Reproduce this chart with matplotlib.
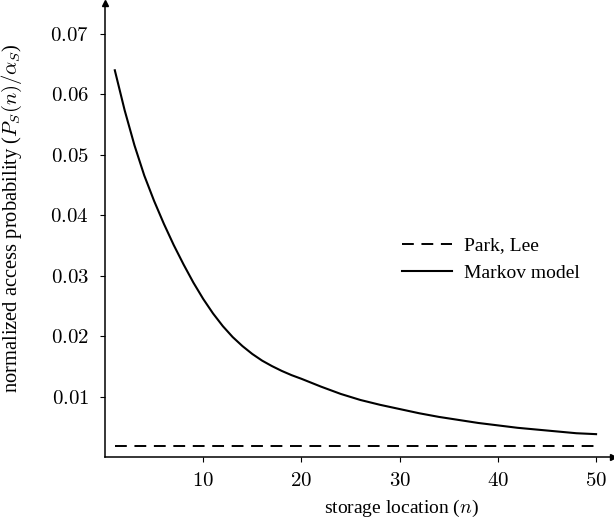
import numpy as np
import matplotlib
matplotlib.use('Agg')
import matplotlib.pyplot as plt

plt.rcParams['font.family'] = ['Liberation Serif', 'DejaVu Serif']
plt.rcParams['mathtext.fontset'] = 'cm'
plt.rcParams['lines.scale_dashes'] = False

# storage location n and normalized access probability
n_markov = [1, 2, 3, 4, 5, 6, 7, 8, 9, 10, 11, 12, 13, 14, 15, 16, 17, 18,
            19, 20, 22, 24, 26, 28, 30, 32, 34, 36, 38, 40, 42, 44, 46, 48, 50]
p_markov = [0.0640, 0.0574, 0.0516, 0.0466, 0.0424, 0.0386, 0.0351, 0.0319,
            0.0289, 0.0262, 0.0238, 0.0217, 0.0199, 0.0184, 0.0171, 0.0160,
            0.0151, 0.0143, 0.0136, 0.0130, 0.0117, 0.0105, 0.0095, 0.0087,
            0.0080, 0.0073, 0.0067, 0.0062, 0.0057, 0.0053, 0.0049, 0.0046,
            0.0043, 0.0040, 0.00385]

n_park = [1, 50]
p_park = [0.00187, 0.00187]

xticks = [10, 20, 30, 40, 50]
yticks = [0.01, 0.02, 0.03, 0.04, 0.05, 0.06, 0.07]

fig = plt.figure(figsize=(6.14, 5.21), dpi=100)
ax = fig.add_axes([0.171, 0.122, 0.827, 0.872])

ax.plot(n_park, p_park, color='black', lw=1.4, linestyle='--', dashes=(8.5, 5.5),
        label='Park, Lee')
ax.plot(n_markov, p_markov, color='black', lw=1.5, label='Markov model')

ax.set_xlim(0, 51.7)
ax.set_ylim(0, 0.0751)

for s in ['top', 'right']:
    ax.spines[s].set_visible(False)
for s in ['left', 'bottom']:
    ax.spines[s].set_linewidth(1.1)

# arrow heads on axis ends
ax.plot(1, 0, marker='>', color='black', ms=5, transform=ax.transAxes, clip_on=False)
ax.plot(0, 1, marker='^', color='black', ms=5, transform=ax.transAxes, clip_on=False)

ax.set_xticks(xticks)
ax.set_xticklabels(['$%d$' % v for v in xticks])
ax.set_yticks(yticks)
ax.set_yticklabels(['$%.2f$' % v for v in yticks])
ax.tick_params(axis='both', direction='out', length=3.5, width=0.8, labelsize=15)
ax.tick_params(axis='x', pad=7)
ax.tick_params(axis='y', pad=8)

ax.set_xlabel('storage location ($n$)', fontsize=14)
ax.set_ylabel(r'normalized access probability ($P_S(n)/\alpha_S$)', fontsize=14.8)
ax.xaxis.set_label_coords(0.583, -0.088)
ax.yaxis.set_label_coords(-0.16, 0.526)

ax.legend(loc='center left', bbox_to_anchor=(0.55, 0.436), frameon=False,
          fontsize=14, handlelength=2.57, handletextpad=0.62, labelspacing=0.5)

fig.savefig('out.png', dpi=100)
